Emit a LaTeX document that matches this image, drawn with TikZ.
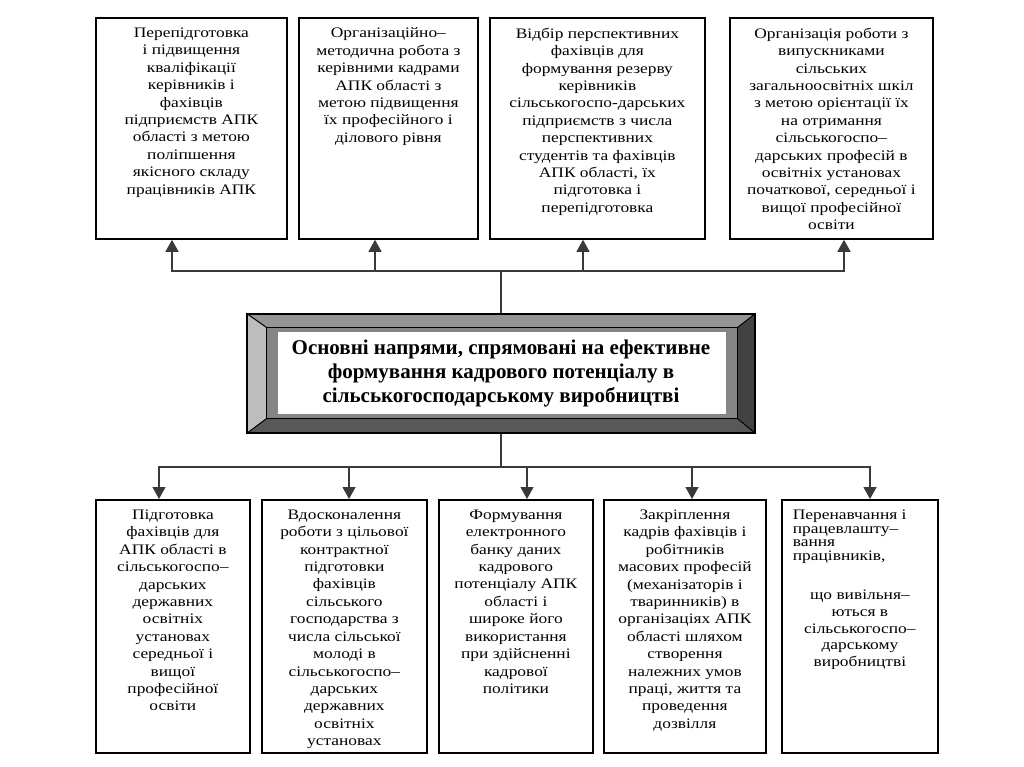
\documentclass[tikz,border=0pt]{standalone}
\usepackage{fontspec}
\setmainfont{Liberation Serif}
\newfontfamily\cellfamily{Liberation Serif}[FakeStretch=1.2]
\usepackage{tikz}
\usetikzlibrary{calc,arrows.meta,backgrounds}
\definecolor{darkline}{HTML}{3A3A3A}
\definecolor{bevtop}{HTML}{959595}
\definecolor{bevleft}{HTML}{BDBDBD}
\definecolor{bevright}{HTML}{424242}
\definecolor{bevbottom}{HTML}{585858}
\definecolor{bevband}{HTML}{858585}
\newcommand{\framecolor}{black}
\newcommand{\linkcolor}{darkline}
\newcommand{\framewidth}{1.8pt}
\newcommand{\linkwidth}{1.3pt}
\newcommand{\cellfont}{\cellfamily\fontsize{14.5pt}{17.4pt}\selectfont}
\newcommand{\celltext}[3]{\parbox[t][#2][t]{#1}{\vspace*{10pt}\cellfont\centering #3\par}}
\tikzset{
  cell/.style={draw=\framecolor, line width=\framewidth, inner sep=0pt, anchor=north west},
  link/.style={draw=\linkcolor, line width=\linkwidth},
  arrowlink/.style={link, -{Triangle[width=13pt,length=12pt]}}
}

\begin{document}
\begin{tikzpicture}[x=1pt,y=-1pt]
\useasboundingbox (0,0) rectangle (1024,767);
%top row
\node[cell] (t1) at (95,17) {\celltext{191pt}{221pt}{Перепідготовка\\ і підвищення\\ кваліфікації\\ керівників і\\ фахівців\\ підприємств АПК\\ області з метою\\ поліпшення\\ якісного складу\\ працівників АПК}};
\node[cell] (t2) at (298,17) {\celltext{179pt}{221pt}{Організаційно–\\ методична робота з\\ керівними кадрами\\ АПК області з\\ метою підвищення\\ їх професійного і\\ ділового рівня}};
\node[cell] (t3) at (489,17) {\celltext{215pt}{221pt}{Відбір перспективних\\ фахівців для\\ формування резерву\\ керівників\\ сільськогоспо-дарських\\ підприємств з числа\\ перспективних\\ студентів та фахівців\\ АПК області, їх\\ підготовка і\\ перепідготовка}};
\node[cell] (t4) at (729,17) {\celltext{203pt}{221pt}{Організація роботи з\\ випускниками\\ сільських\\ загальноосвітніх шкіл\\ з метою орієнтації їх\\ на отримання\\ сільськогоспо–\\ дарських професій в\\ освітніх установах\\ початкової, середньої і\\ вищої професійної\\ освіти}};
%centre
\node[font=\fontsize{21pt}{24pt}\selectfont\bfseries, align=center, minimum width=508pt, minimum height=119pt, draw=\framecolor, line width=1.5pt] (core) at (501,373.5) {Основні напрями, спрямовані на ефективне\\ формування кадрового потенціалу в\\ сільськогосподарському виробництві};
%bottom row
\node[cell] (b1) at (95,499) {\celltext{154pt}{253pt}{Підготовка\\ фахівців для\\ АПК області в\\ сільськогоспо–\\ дарських\\ державних\\ освітніх\\ установах\\ середньої і\\ вищої\\ професійної\\ освіти}};
\node[cell] (b2) at (261,499) {\celltext{165pt}{253pt}{Вдосконалення\\ роботи з цільової\\ контрактної\\ підготовки\\ фахівців\\ сільського\\ господарства з\\ числа сільської\\ молоді в\\ сільськогоспо–\\ дарських\\ державних\\ освітніх\\ установах}};
\node[cell] (b3) at (438,499) {\celltext{154pt}{253pt}{Формування\\ електронного\\ банку даних\\ кадрового\\ потенціалу АПК\\ області і\\ широке його\\ використання\\ при здійсненні\\ кадрової\\ політики}};
\node[cell] (b4) at (603,499) {\celltext{162pt}{253pt}{Закріплення\\ кадрів фахівців і\\ робітників\\ масових професій\\ (механізаторів і\\ тваринників) в\\ організаціях АПК\\ області шляхом\\ створення\\ належних умов\\ праці, життя та\\ проведення\\ дозвілля}};
\node[cell] (b5) at (781,499) {\parbox[t][253pt][t]{156pt}{\vspace*{10pt}{\raggedright\leftskip=11pt\cellfamily\fontsize{14.5pt}{13.7pt}\selectfont Перенавчання і\\ працевлашту–\\ вання\\ працівників,\par}\vspace{22pt}{\centering\cellfamily\fontsize{14.5pt}{16.8pt}\selectfont що вивільня–\\ ються в\\ сільськогоспо–\\ дарському\\ виробництві\par}}};
%bevel of the centre frame
\coordinate (bevNW) at ($(core.north west)+(20,14)$);
\coordinate (bevSE) at ($(core.south east)+(-18,-15)$);
\coordinate (bevNE) at (bevSE |- bevNW);
\coordinate (bevSW) at (bevNW |- bevSE);
\coordinate (winNW) at ($(bevNW)+(12,5)$);
\coordinate (winSE) at ($(bevSE)+(-12,-5)$);
\begin{scope}[on background layer]
\fill[bevtop] (core.north west) -- (core.north east) -- (bevNE) -- (bevNW) -- cycle;
\fill[bevleft] (core.north west) -- (bevNW) -- (bevSW) -- (core.south west) -- cycle;
\fill[bevright] (core.north east) -- (core.south east) -- (bevSE) -- (bevNE) -- cycle;
\fill[bevbottom] (core.south west) -- (bevSW) -- (bevSE) -- (core.south east) -- cycle;
\fill[bevband] (bevNW) rectangle (bevSE);
\fill[white] (winNW) rectangle (winSE);
\draw[\framecolor, line width=1pt] (bevNW) rectangle (bevSE);
\draw[\framecolor, line width=1pt] (core.north west) -- (bevNW);
\draw[\framecolor, line width=1pt] (core.north east) -- (bevNE);
\draw[\framecolor, line width=1pt] (core.south east) -- (bevSE);
\draw[\framecolor, line width=1pt] (core.south west) -- (bevSW);
\end{scope}
%links up
\coordinate (tbus) at (501,271);
\coordinate (tj1) at (172,271);
\coordinate (tj2) at (375,271);
\coordinate (tj3) at (583,271);
\coordinate (tj4) at (844,271);
\draw[link] (core.north) -- (tbus);
\draw[link, line cap=rect] (tj1) -- (tj4);
\draw[arrowlink] (tj1) -- (tj1 |- t1.south);
\draw[arrowlink] (tj2) -- (tj2 |- t2.south);
\draw[arrowlink] (tj3) -- (tj3 |- t3.south);
\draw[arrowlink] (tj4) -- (tj4 |- t4.south);
%links down
\coordinate (bbus) at (501,467);
\coordinate (bj1) at (159,467);
\coordinate (bj2) at (349,467);
\coordinate (bj3) at (527,467);
\coordinate (bj4) at (692,467);
\coordinate (bj5) at (870,467);
\draw[link] (core.south) -- (bbus);
\draw[link, line cap=rect] (bj1) -- (bj5);
\draw[arrowlink] (bj1) -- (bj1 |- b1.north);
\draw[arrowlink] (bj2) -- (bj2 |- b2.north);
\draw[arrowlink] (bj3) -- (bj3 |- b3.north);
\draw[arrowlink] (bj4) -- (bj4 |- b4.north);
\draw[arrowlink] (bj5) -- (bj5 |- b5.north);
\end{tikzpicture}
\end{document}
